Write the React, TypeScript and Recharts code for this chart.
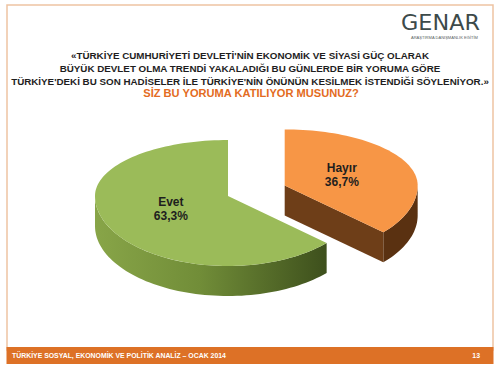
import React from "react";
import { PieChart, Pie } from "recharts";

const answers = ["Hayır", "Evet"];
const shares = [36.7, 63.3];
const shareLabels = ["36,7%", "63,3%"];

const titleLines = [
  "«TÜRKİYE CUMHURİYETİ DEVLETİ'NİN EKONOMİK VE SİYASİ GÜÇ OLARAK",
  "BÜYÜK DEVLET OLMA TRENDİ YAKALADIĞI BU GÜNLERDE BİR YORUMA GÖRE",
  "TÜRKİYE'DEKİ BU SON HADİSELER İLE TÜRKİYE'NİN ÖNÜNÜN KESİLMEK İSTENDİĞİ SÖYLENİYOR.»",
];
const question = "SİZ BU YORUMA KATILIYOR MUSUNUZ?";
const footerText = "TÜRKİYE SOSYAL, EKONOMİK VE POLİTİK ANALİZ – OCAK 2014";
const pageNo = "13";

const data = answers.map((name, i) => ({ name, value: shares[i] }));

const FONT = "'Liberation Sans', Arial, sans-serif";
const TOP_RATIO = 56 / 133;
const BOTTOM_RATIO = 70 / 133;
const DEPTH = 30;
const EXPLODE = [62, 0];
const TOP_COLORS = ["#f79646", "#9bbb59"];
const FACE_COLORS = ["#6e3e18", "#6a8632"];
const SIDE_STOPS = [
  ["#74431b", "#6a3b16", "#5a3111"],
  ["#88a548", "#718d38", "#3d4f1c"],
];
const RAD = Math.PI / 180;

function ratio(a: number) {
  return Math.sin(a * RAD) > 0 ? TOP_RATIO : BOTTOM_RATIO;
}

function pt(cx: number, cy: number, r: number, a: number): [number, number] {
  return [cx + r * Math.cos(a * RAD), cy - r * ratio(a) * Math.sin(a * RAD)];
}

function arcPts(cx: number, cy: number, r: number, a1: number, a2: number, dy = 0) {
  const n = Math.max(2, Math.ceil(Math.abs(a2 - a1) / 2));
  const out: [number, number][] = [];
  for (let k = 0; k <= n; k++) {
    const p = pt(cx, cy, r, a1 + ((a2 - a1) * k) / n);
    out.push([p[0], p[1] + dy]);
  }
  return out;
}

const toPath = (pts: [number, number][]) =>
  pts.map((p, i) => (i ? "L" : "M") + p[0].toFixed(2) + " " + p[1].toFixed(2)).join(" ") + " Z";

function centerOf(cx: number, cy: number, mid: number, i: number) {
  const d = EXPLODE[i] || 0;
  return pt(cx, cy, d, mid);
}

function Slice3D(props: any) {
  const { cx, cy, outerRadius: r, startAngle, endAngle } = props;
  const name = props.name ?? props.payload?.name;
  const i = Math.max(0, answers.indexOf(name));
  const mid = props.midAngle ?? (startAngle + endAngle) / 2;
  const [x0, y0] = centerOf(cx, cy, mid, i);
  const lo = Math.min(startAngle, endAngle);
  const hi = Math.max(startAngle, endAngle);

  // outer wall: front half only
  const walls: string[] = [];
  for (let k = -2; k <= 2; k++) {
    const a = Math.max(lo, -180 + 360 * k);
    const b = Math.min(hi, 360 * k);
    if (b > a) {
      const top = arcPts(x0, y0, r, a, b);
      const bot = arcPts(x0, y0, r, b, a, DEPTH);
      walls.push(toPath([...top, ...bot]));
    }
  }

  // radial cut faces
  const faces: string[] = [];
  const face = (a: number) => {
    const e = pt(x0, y0, r, a);
    faces.push(toPath([[x0, y0], e, [e[0], e[1] + DEPTH], [x0, y0 + DEPTH]]));
  };
  if (Math.cos(hi * RAD) < -0.02) face(hi);
  if (Math.cos(lo * RAD) > 0.02) face(lo);

  const topFace = toPath([[x0, y0], ...arcPts(x0, y0, r, startAngle, endAngle)]);
  const gid = "side" + i;
  const stops = SIDE_STOPS[i];

  return (
    <g>
      <defs>
        <linearGradient id={gid} gradientUnits="userSpaceOnUse" x1={x0 - r} y1={0} x2={x0 + 0.75 * r} y2={0}>
          <stop offset="0" stopColor={stops[0]} />
          <stop offset="0.45" stopColor={stops[1]} />
          <stop offset="1" stopColor={stops[2]} />
        </linearGradient>
      </defs>
      {walls.map((d, k) => (
        <path key={"w" + k} d={d} fill={`url(#${gid})`} />
      ))}
      {faces.map((d, k) => (
        <path key={"f" + k} d={d} fill={FACE_COLORS[i]} />
      ))}
      <path d={topFace} fill={TOP_COLORS[i]} />
    </g>
  );
}

function renderLabel(props: any) {
  const { cx, cy, midAngle, outerRadius: r, name } = props;
  const i = Math.max(0, answers.indexOf(name));
  const [x0, y0] = centerOf(cx, cy, midAngle, i);
  const [x, y] = pt(x0, y0, r * 0.47, midAngle);
  return (
    <text
      x={x}
      y={y}
      textAnchor="middle"
      fontFamily={FONT}
      fontWeight="bold"
      fontSize={12}
      fill="#1e1e1e"
    >
      <tspan x={x} y={y - 3}>{name}</tspan>
      <tspan x={x} y={y + 11}>{shareLabels[i]}</tspan>
    </text>
  );
}

function Frame() {
  return (
    <svg width={500} height={372} style={{ position: "absolute", left: 0, top: 0 }}>
      <rect x={0} y={0} width={500} height={372} fill="#ffffff" />
      <rect x={7} y={5} width={486} height={345} fill="none" stroke="#eec3a2" strokeWidth={1.5} />
      <rect x={6.5} y={347} width={487} height={17} fill="#dd7126" />
      <text x={12} y={358} fontFamily={FONT} fontWeight="bold" fontSize={6.9} fill="#ffffff">
        {footerText}
      </text>
      <text x={480} y={358} textAnchor="end" fontFamily={FONT} fontWeight="bold" fontSize={6.9} fill="#ffffff">
        {pageNo}
      </text>
      <text x={401} y={30} fontFamily="'DejaVu Sans', sans-serif" fontSize={22} fill="#3d4a4a" textLength={79} lengthAdjust="spacingAndGlyphs">
        GENAR
      </text>
      <text x={411} y={39} fontFamily={FONT} fontSize={3.8} fill="#5a6464" textLength={67} lengthAdjust="spacingAndGlyphs">
        ARAŞTIRMA DANIŞMANLIK EĞİTİM
      </text>
      {titleLines.map((t, k) => (
        <text
          key={k}
          x={250}
          y={59 + k * 12.8}
          textAnchor="middle"
          fontFamily={FONT}
          fontWeight="bold"
          fontSize={9.8}
          fill="#1e1e1e"
        >
          {t}
        </text>
      ))}
      <text x={251} y={97} textAnchor="middle" fontFamily={FONT} fontWeight="bold" fontSize={11.1} fill="#e36b22">
        {question}
      </text>
    </svg>
  );
}

export default function App() {
  return (
    <div style={{ position: "absolute", left: 0, top: 0, width: 500, height: 372 }}>
      <Frame />
      <div style={{ position: "absolute", left: 0, top: 0 }}>
        <PieChart width={500} height={372} margin={{ top: 0, right: 0, bottom: 0, left: 0 }}>
          <Pie
            data={data}
            dataKey="value"
            nameKey="name"
            cx={228}
            cy={196}
            outerRadius={133}
            startAngle={90}
            endAngle={-270}
            stroke="none"
            labelLine={false}
            label={renderLabel}
            shape={Slice3D}
            inactiveShape={Slice3D}
            activeShape={Slice3D}
            isAnimationActive={false}
          />
        </PieChart>
      </div>
    </div>
  );
}
